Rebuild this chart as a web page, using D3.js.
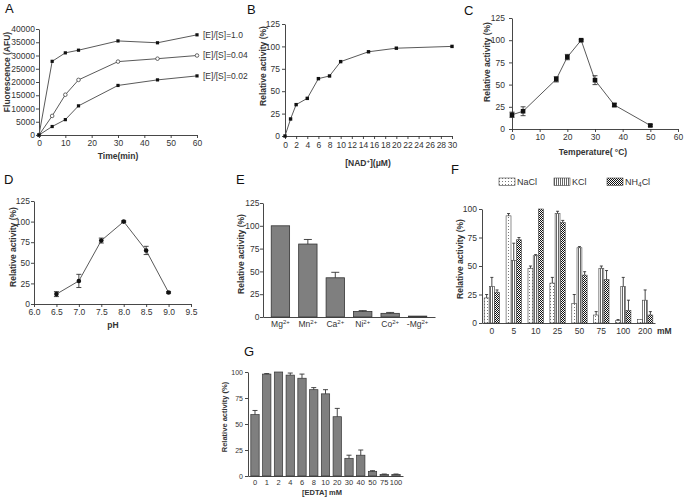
<!DOCTYPE html>
<html><head><meta charset="utf-8">
<script src="https://cdn.jsdelivr.net/npm/d3@7"></script>
<style>
body{margin:0;background:#fff}
svg{display:block;font-family:"Liberation Sans",Arial,Helvetica,sans-serif}
</style></head><body>
<svg id="c" width="686" height="500"></svg>
<script>
// ---------- DATA ----------
// A
const timeMin = [0, 5, 10, 15, 30, 45, 60];
const fluorE1 = [0, 27800, 31000, 32000, 35500, 34800, 37800];
const fluorE004 = [0, 7200, 15200, 20800, 27700, 28800, 30000];
const fluorE002 = [0, 3200, 5800, 11000, 18700, 20800, 22300];
const seriesLabelsA = ["[E]/[S]=1.0", "[E]/[S]=0.04", "[E]/[S]=0.02"];
const yTicksA = [0, 5000, 10000, 15000, 20000, 25000, 30000, 35000, 40000];
const xTicksA = [0, 10, 20, 30, 40, 50, 60];
// B
const nadConc = [0, 1, 2, 4, 6, 8, 10, 15, 20, 30];
const nadActivity = [0, 19, 35, 42, 64, 67, 83, 94, 98, 100];
const xTicksB = [0, 2, 4, 6, 8, 10, 12, 14, 16, 18, 20, 22, 24, 26, 28, 30];
const yTicks125 = [0, 25, 50, 75, 100, 125];
const yTicks100 = [0, 25, 50, 75, 100];
// C
const tempC = [0, 4, 16, 20, 25, 30, 37, 50];
const tempActivity = [16, 20, 56, 81, 100, 55, 27, 4];
const tempErr = [3, 5, 3, 3, 1, 5, 2, 1];
const xTicksC = [0, 10, 20, 30, 40, 50, 60];
// D
const phVals = [6.5, 7.0, 7.5, 8.0, 8.5, 9.0];
const phActivity = [12, 28, 77, 100, 65, 14];
const phErr = [3, 8, 3, 1, 5, 1];
const xTicksD = [6.0, 6.5, 7.0, 7.5, 8.0, 8.5, 9.0, 9.5];
// E
const ionNames = ["Mg", "Mn", "Ca", "Ni", "Co", "-Mg"];
const ionCharge = "2+";
const ionActivity = [100, 80, 43, 6, 4, 1];
const ionErr = [0, 5, 6, 1, 1, 0];
// F
const saltConc = ["0", "5", "10", "25", "50", "75", "100", "200"];
const saltNames = ["NaCl", "KCl", "NH4Cl"];
const naclActivity = [22, 94, 48, 35, 17, 7, 2, 3];
const naclErr = [3, 2, 2, 5, 8, 3, 1, 0];
const kclActivity = [32, 55, 59, 96, 66, 48, 32, 20];
const kclErr = [8, 15, 1, 2, 1, 2, 8, 9];
const nh4clActivity = [27, 73, 100, 88, 42, 38, 11, 7];
const nh4clErr = [2, 2, 0, 2, 3, 8, 9, 3];
// G
const edtaConc = ["0", "1", "2", "4", "6", "8", "10", "20", "30", "40", "50", "75", "100"];
const edtaActivity = [59, 98, 100, 97, 94, 83, 79, 57, 17, 20, 4.5, 1.5, 1.5];
const edtaErr = [4, 0.5, 0, 2, 4, 2, 4, 8, 3, 5, 0.6, 0.4, 0.4];

// ---------- DRAW ----------
const svg = d3.select("#c");
const INK = "#333", LINE = "#5a5a5a", BAR = "#7f7f7f";

function styleAxis(g, fs) {
  g.attr("font-family", null).attr("font-size", fs);
  g.selectAll("path,line").attr("stroke", INK).attr("stroke-width", 0.9);
  g.selectAll("text").attr("fill", INK);
}
function axisB(scale, y, vals, fs, pad, size, fmt) {
  const a = d3.axisBottom(scale).tickSize(size).tickPadding(pad).tickSizeOuter(0);
  if (vals) a.tickValues(vals);
  if (fmt) a.tickFormat(fmt);
  return svg.append("g").attr("transform", `translate(0,${y})`).call(a).call(styleAxis, fs);
}
function axisL(scale, x, vals, fs, pad, fmt) {
  const a = d3.axisLeft(scale).tickValues(vals).tickSize(3).tickPadding(pad).tickSizeOuter(0);
  if (fmt) a.tickFormat(fmt);
  return svg.append("g").attr("transform", `translate(${x},0)`).call(a).call(styleAxis, fs);
}
function yTitle(x, y, txt, fs) {
  svg.append("text").attr("transform", `translate(${x},${y}) rotate(-90)`)
    .attr("text-anchor", "middle").attr("dy", "0.35em")
    .attr("font-size", fs).attr("font-weight", "bold").attr("fill", INK).text(txt);
}
function xTitle(x, y, txt, fs) {
  return svg.append("text").attr("x", x).attr("y", y).attr("dy", "0.35em")
    .attr("text-anchor", "middle").attr("font-size", fs).attr("font-weight", "bold")
    .attr("fill", INK).text(txt);
}
function letter(x, y, t) {
  svg.append("text").attr("x", x).attr("y", y).attr("font-size", 13).attr("fill", "#111").text(t);
}
function squares(xs, ys, x, y, s, fill) {
  svg.append("g").selectAll("rect").data(xs).join("rect")
    .attr("x", (d) => x(d) - s / 2).attr("y", (d, i) => y(ys[i]) - s / 2)
    .attr("width", s).attr("height", s).attr("fill", fill || "#111");
}
function lineSeries(xs, ys, x, y) {
  svg.append("path").datum(xs.map((d, i) => [d, ys[i]]))
    .attr("d", d3.line().x((d) => x(d[0])).y((d) => y(d[1])))
    .attr("fill", "none").attr("stroke", LINE).attr("stroke-width", 1);
}
function errBars(xs, ys, es, x, y, cap, both) {
  const g = svg.append("g").attr("stroke", INK).attr("stroke-width", 0.9);
  xs.forEach((d, i) => {
    if (!es[i]) return;
    const cx = x(d), top = y(ys[i] + es[i]), bot = both ? y(Math.max(0, ys[i] - es[i])) : y(ys[i]);
    g.append("line").attr("x1", cx).attr("x2", cx).attr("y1", top).attr("y2", bot);
    g.append("line").attr("x1", cx - cap / 2).attr("x2", cx + cap / 2).attr("y1", top).attr("y2", top);
    if (both) g.append("line").attr("x1", cx - cap / 2).attr("x2", cx + cap / 2).attr("y1", bot).attr("y2", bot);
  });
}

// ===== A =====
letter(5, 13, "A");
const xA = d3.scaleLinear().domain([0, 60]).range([39, 197]);
const yA = d3.scaleLinear().domain([0, 40000]).range([135, 29]);
axisB(xA, 135, xTicksA, 8.5, 1.5, 3);
axisL(yA, 39, yTicksA, 8.5, 1, d3.format("d"));
yTitle(7, 72, "Fluorescence (AFU)", 8.5);
xTitle(118, 156, "Time(min)", 8.5);
[fluorE1, fluorE004, fluorE002].forEach((s, k) => {
  lineSeries(timeMin, s, xA, yA);
  if (k === 1) {
    svg.append("g").selectAll("circle").data(timeMin).join("circle")
      .attr("cx", (d) => xA(d)).attr("cy", (d, i) => yA(s[i])).attr("r", 1.8)
      .attr("fill", "#fff").attr("stroke", "#444").attr("stroke-width", 0.8);
  } else {
    squares(timeMin, s, xA, yA, 3.2);
  }
  svg.append("text").attr("x", 203).attr("y", yA(s[s.length - 1])).attr("dy", "0.35em")
    .attr("font-size", 8.5).attr("fill", INK).text(seriesLabelsA[k]);
});

// ===== B =====
letter(247, 14, "B");
const xB = d3.scaleLinear().domain([0, 30]).range([285, 452]);
const yB = d3.scaleLinear().domain([0, 125]).range([136, 24]);
axisB(xB, 136, xTicksB, 8.5, 2.5, 3);
axisL(yB, 285, yTicks125, 8.5, 2);
yTitle(263, 66, "Relative activity (%)", 8.5);
{
  const t = xTitle(368, 163, "", 8.5);
  t.append("tspan").text("[NAD");
  t.append("tspan").attr("font-size", 6).attr("dy", -3).text("+");
  t.append("tspan").attr("dy", 3).text("](μM)");
}
lineSeries(nadConc, nadActivity, xB, yB);
squares(nadConc, nadActivity, xB, yB, 3.4);

// ===== C =====
letter(464, 15, "C");
const xC = d3.scaleLinear().domain([0, 60]).range([512, 678]);
const yC = d3.scaleLinear().domain([0, 125]).range([129, 18]);
axisB(xC, 129, xTicksC, 8.5, 2, 3);
axisL(yC, 512, yTicks125, 8.5, 4);
yTitle(487, 62, "Relative activity (%)", 8.5);
xTitle(593, 152, "Temperature( °C)", 8.5);
lineSeries(tempC, tempActivity, xC, yC);
errBars(tempC, tempActivity, tempErr, xC, yC, 5, true);
squares(tempC, tempActivity, xC, yC, 4.6);

// ===== D =====
letter(4, 184, "D");
const xD = d3.scaleLinear().domain([6, 9.5]).range([34, 191]);
const yD = d3.scaleLinear().domain([0, 125]).range([304, 201]);
axisB(xD, 304, xTicksD, 8.5, 1.5, 3, d3.format(".1f"));
axisL(yD, 34, yTicks125, 8.5, 1);
yTitle(13, 247, "Relative activity (%)", 8.5);
xTitle(113, 325, "pH", 8.5);
lineSeries(phVals, phActivity, xD, yD);
errBars(phVals, phActivity, phErr, xD, yD, 5, true);
svg.append("g").selectAll("circle").data(phVals).join("circle")
  .attr("cx", (d) => xD(d)).attr("cy", (d, i) => yD(phActivity[i])).attr("r", 2.3).attr("fill", "#111");

// ===== E =====
letter(236, 184, "E");
const xE = d3.scaleBand().domain(ionNames).range([263, 435]).paddingInner(0.33).paddingOuter(0.3);
const yE = d3.scaleLinear().domain([0, 125]).range([317, 203]);
svg.append("g").selectAll("rect").data(ionNames).join("rect")
  .attr("x", (d) => xE(d)).attr("width", xE.bandwidth())
  .attr("y", (d, i) => yE(ionActivity[i])).attr("height", (d, i) => yE(0) - yE(ionActivity[i]))
  .attr("fill", BAR).attr("stroke", "#333").attr("stroke-width", 0.8);
errBars(ionNames, ionActivity, ionErr, (d) => xE(d) + xE.bandwidth() / 2, yE, 8, false);
{
  const g = axisB(xE, 317, null, 8.5, 3, 0);
  g.selectAll(".tick text").remove();
  ionNames.forEach((n) => {
    const t = svg.append("text").attr("x", xE(n) + xE.bandwidth() / 2).attr("y", 327)
      .attr("text-anchor", "middle").attr("font-size", 8.5).attr("fill", INK);
    t.append("tspan").text(n);
    t.append("tspan").attr("font-size", 6).attr("dy", -3.5).text(ionCharge);
  });
}
axisL(yE, 263, yTicks125, 8.5, 0.5);
yTitle(241, 254, "Relative activity (%)", 8.5);

// ===== F =====
letter(451, 174, "F");
const defs = svg.append("defs");
const pNa = defs.append("pattern").attr("id", "pNa").attr("patternUnits", "userSpaceOnUse").attr("width", 3).attr("height", 3);
pNa.append("rect").attr("width", 3).attr("height", 3).attr("fill", "#fff");
pNa.append("rect").attr("x", 1).attr("y", 1).attr("width", 1).attr("height", 1).attr("fill", "#777");
const pK = defs.append("pattern").attr("id", "pK").attr("patternUnits", "userSpaceOnUse").attr("width", 2).attr("height", 2);
pK.append("rect").attr("width", 2).attr("height", 2).attr("fill", "#fff");
pK.append("rect").attr("width", 1).attr("height", 2).attr("fill", "#666");
const pNH = defs.append("pattern").attr("id", "pNH").attr("patternUnits", "userSpaceOnUse").attr("width", 2).attr("height", 2);
pNH.append("rect").attr("width", 2).attr("height", 2).attr("fill", "#fff");
pNH.append("rect").attr("width", 1).attr("height", 1).attr("fill", "#111");
pNH.append("rect").attr("x", 1).attr("y", 1).attr("width", 1).attr("height", 1).attr("fill", "#111");
const fills = ["url(#pNa)", "url(#pK)", "url(#pNH)"];
const saltVals = [naclActivity, kclActivity, nh4clActivity];
const saltErrs = [naclErr, kclErr, nh4clErr];

const xF = d3.scaleBand().domain(saltConc).range([482, 655]).paddingInner(0.3).paddingOuter(0.1);
const xF2 = d3.scaleBand().domain(saltNames).range([0, xF.bandwidth()]).paddingInner(0.06);
const yF = d3.scaleLinear().domain([0, 100]).range([323, 209]);
saltNames.forEach((s, k) => {
  svg.append("g").selectAll("rect").data(saltConc).join("rect")
    .attr("x", (d) => xF(d) + xF2(s)).attr("width", xF2.bandwidth())
    .attr("y", (d, i) => yF(saltVals[k][i])).attr("height", (d, i) => yF(0) - yF(saltVals[k][i]))
    .attr("fill", fills[k]).attr("stroke", "#444").attr("stroke-width", 0.6);
  errBars(saltConc, saltVals[k], saltErrs[k], (d) => xF(d) + xF2(s) + xF2.bandwidth() / 2, yF, 3, false);
});
axisB(xF, 323, null, 8.5, 5, 0);
axisL(yF, 482, yTicks100, 8.5, 2);
yTitle(460, 259, "Relative activity (%)", 8.5);
svg.append("text").attr("x", 657).attr("y", 331).attr("dy", "0.35em").attr("font-size", 8.5)
  .attr("font-weight", "bold").attr("fill", INK).text("mM");
// legend
const legX = [499, 554, 607];
saltNames.forEach((s, k) => {
  svg.append("rect").attr("x", legX[k]).attr("y", 178).attr("width", 16).attr("height", 7.5)
    .attr("fill", fills[k]).attr("stroke", "#444").attr("stroke-width", 0.6);
  const t = svg.append("text").attr("x", legX[k] + 18).attr("y", 182).attr("dy", "0.35em")
    .attr("font-size", 9).attr("fill", INK);
  if (s === "NH4Cl") {
    t.append("tspan").text("NH");
    t.append("tspan").attr("font-size", 6.5).attr("dy", 2).text("4");
    t.append("tspan").attr("dy", -2).text("Cl");
  } else t.text(s);
});

// ===== G =====
letter(244, 356, "G");
const xG = d3.scaleBand().domain(edtaConc).range([248, 403]).paddingInner(0.29).paddingOuter(0.24);
const yG = d3.scaleLinear().domain([0, 100]).range([476, 372]);
svg.append("g").selectAll("rect").data(edtaConc).join("rect")
  .attr("x", (d) => xG(d)).attr("width", xG.bandwidth())
  .attr("y", (d, i) => yG(edtaActivity[i])).attr("height", (d, i) => yG(0) - yG(edtaActivity[i]))
  .attr("fill", BAR).attr("stroke", "#333").attr("stroke-width", 0.7);
errBars(edtaConc, edtaActivity, edtaErr, (d) => xG(d) + xG.bandwidth() / 2, yG, 5, false);
axisB(xG, 476, null, 7.5, 3.5, 0);
axisL(yG, 248, yTicks100, 7, 2);
yTitle(224, 417, "Relative activity (%)", 7.5);
xTitle(322, 492, "[EDTA] mM", 7.5);
</script>
</body></html>
